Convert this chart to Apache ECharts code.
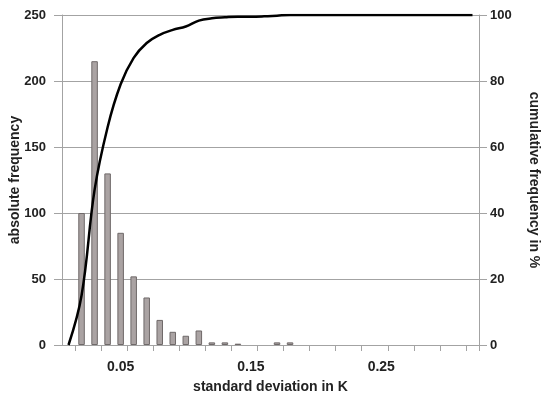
<!DOCTYPE html>
<html>
<head>
<meta charset="utf-8">
<script src="https://cdn.jsdelivr.net/npm/echarts@6/dist/echarts.min.js"></script>
<style>
  html, body { margin: 0; padding: 0; background: #fff; }
  #chart { width: 543px; height: 399px; }
</style>
</head>
<body>
<div id="chart"></div>
<script>
// classes of standard deviation (K)
var categories = [
  "0.01", "0.02", "0.03", "0.04", "0.05", "0.06", "0.07", "0.08",
  "0.09", "0.10", "0.11", "0.12", "0.13", "0.14", "0.15", "0.16",
  "0.17", "0.18", "0.19", "0.20", "0.21", "0.22", "0.23", "0.24",
  "0.25", "0.26", "0.27", "0.28", "0.29", "0.30", "0.31", "0.32"
];
// absolute frequency per class
var absFreq = [
  0, 100, 215, 130, 85, 52, 36, 19,
  10, 7, 11, 2, 2, 1, 0, 0,
  2, 2, 0, 0, 0, 0, 0, 0,
  0, 0, 0, 0, 0, 0, 0, 0
];
// cumulative frequency in %
var cumFreq = [
  0, 15, 47, 66, 79, 87, 91.5, 94,
  95.5, 96.5, 98.3, 99, 99.3, 99.5, 99.5, 99.6,
  99.8, 100, 100, 100, 100, 100, 100, 100,
  100, 100, 100, 100, 100, 100, 100, 100
];
var shownLabels = ["0.05", "0.15", "0.25"];

var font = "'Liberation Sans', Arial, sans-serif";
var gridColor = "#a3a3a3";
var textColor = "#222";

var myChart = echarts.init(document.getElementById("chart"));
myChart.setOption({
  animation: false,
  grid: { left: 62, right: 64, top: 15, bottom: 54, containLabel: false, outerBoundsMode: "none" },
  xAxis: {
    type: "category",
    data: categories,
    boundaryGap: true,
    name: "standard deviation in K",
    nameLocation: "middle",
    nameGap: 35,
    nameMoveOverlap: false,
    nameTextStyle: { fontFamily: font, fontWeight: "bold", fontSize: 14, color: textColor },
    axisLine: { show: true, lineStyle: { color: gridColor, width: 1 } },
    axisTick: {
      show: true,
      alignWithLabel: false,
      length: 6,
      lineStyle: { color: gridColor, width: 1 },
      interval: function (index) { return index % 2 === 1; }
    },
    axisLabel: {
      margin: 15,
      fontFamily: font, fontWeight: "bold", fontSize: 14, color: textColor,
      interval: function (index, value) { return shownLabels.indexOf(value) >= 0; }
    },
    splitLine: { show: false }
  },
  yAxis: [
    {
      type: "value",
      min: 0, max: 250, interval: 50,
      name: "absolute frequency",
      nameLocation: "middle",
      nameGap: 40,
      nameMoveOverlap: false,
      nameTextStyle: { fontFamily: font, fontWeight: "bold", fontSize: 14, color: textColor },
      axisLine: { show: true, lineStyle: { color: gridColor } },
      axisTick: { show: true, length: 8, lineStyle: { color: gridColor, width: 1 } },
      axisLabel: { margin: 16, fontFamily: font, fontWeight: "bold", fontSize: 13, color: textColor },
      splitLine: { show: true, lineStyle: { color: gridColor, width: 1 } }
    },
    {
      type: "value",
      min: 0, max: 100, interval: 20,
      position: "right",
      name: "cumulative frequency in %",
      nameLocation: "middle",
      nameGap: 48,
      nameMoveOverlap: false,
      nameRotate: -90,
      nameTextStyle: { fontFamily: font, fontWeight: "bold", fontSize: 14, color: textColor },
      axisLine: { show: true, lineStyle: { color: gridColor } },
      axisTick: { show: true, length: 8, lineStyle: { color: gridColor, width: 1 } },
      axisLabel: { margin: 11, fontFamily: font, fontWeight: "bold", fontSize: 13, color: textColor },
      splitLine: { show: false }
    }
  ],
  series: [
    {
      name: "absolute frequency",
      type: "bar",
      // empty classes drawn as no bar at all
      data: absFreq.map(function (v) { return v === 0 ? null : v; }),
      barWidth: "50%",
      itemStyle: { color: "#aaa3a3", borderColor: "#6f6969", borderWidth: 1 },
      z: 2
    },
    {
      name: "cumulative frequency",
      type: "line",
      yAxisIndex: 1,
      data: cumFreq,
      smooth: 0.4,
      showSymbol: false,
      lineStyle: { color: "#000", width: 2.5 },
      z: 3
    }
  ]
});
</script>
</body>
</html>
